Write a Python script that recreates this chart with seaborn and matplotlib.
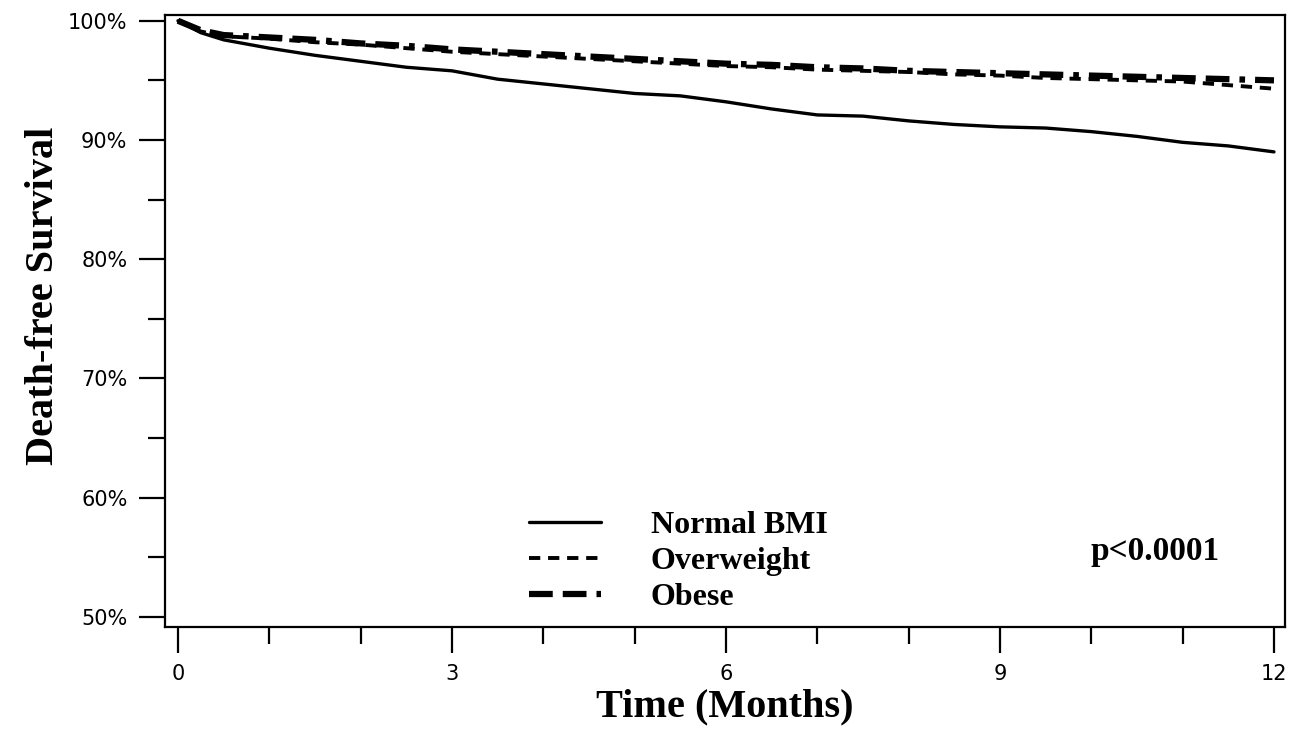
import numpy as np
import pandas as pd
import matplotlib
matplotlib.use("Agg")
import matplotlib.pyplot as plt
import seaborn as sns
from matplotlib.ticker import MultipleLocator, FuncFormatter

# Death-free survival (%), every half month
months = [0, 0.25, 0.5, 1, 1.5, 2, 2.5, 3, 3.5, 4, 4.5, 5, 5.5, 6,
          6.5, 7, 7.5, 8, 8.5, 9, 9.5, 10, 10.5, 11, 11.5, 12]
normal_bmi = [100, 99.0, 98.4, 97.7, 97.1, 96.6, 96.1, 95.8, 95.1, 94.7, 94.3, 93.9, 93.7, 93.2,
              92.6, 92.1, 92.0, 91.6, 91.3, 91.1, 91.0, 90.7, 90.3, 89.8, 89.5, 89.0]
overweight = [100, 99.1, 98.7, 98.5, 98.2, 98.0, 97.7, 97.4, 97.2, 97.0, 96.8, 96.6, 96.4, 96.2,
              96.1, 95.9, 95.8, 95.7, 95.5, 95.4, 95.2, 95.1, 95.0, 94.9, 94.6, 94.3]
obese = [100, 99.2, 98.8, 98.6, 98.4, 98.1, 97.9, 97.6, 97.4, 97.2, 97.0, 96.8, 96.6, 96.4,
         96.3, 96.1, 96.0, 95.8, 95.7, 95.6, 95.5, 95.4, 95.3, 95.2, 95.1, 95.0]
group_names = ["Normal BMI", "Overweight", "Obese"]

x_ticks = [0, 3, 6, 9, 12]
y_ticks = [50, 60, 70, 80, 90, 100]

df = pd.DataFrame({"month": months, "Normal BMI": normal_bmi,
                   "Overweight": overweight, "Obese": obese})

sns.set_style("ticks")
plt.rcParams["font.family"] = ["DejaVu Sans"]
for key in ["text.color", "axes.labelcolor", "xtick.color", "ytick.color", "axes.edgecolor"]:
    plt.rcParams[key] = "black"

fig = plt.figure(figsize=(12.94, 7.40), dpi=100)
ax = fig.add_axes([0.1275, 0.153, 0.8655, 0.827])

styles = {
    "Normal BMI": dict(linestyle="-", linewidth=2.4),
    "Overweight": dict(linestyle=(0, (2.9, 2.0)), linewidth=2.8),
    "Obese": dict(linestyle=(0, (3.8, 1.6, 3.8, 1.6, 0.9, 1.6)), linewidth=4.5),
}
for name in group_names:
    sns.lineplot(data=df, x="month", y=name, ax=ax, color="black",
                 label=name, **styles[name])

ax.set_xlim(-0.142, 12.12)
ax.set_ylim(49.16, 100.5)
ax.set_xticks(x_ticks)
ax.set_yticks(y_ticks)
ax.xaxis.set_minor_locator(MultipleLocator(1))
ax.yaxis.set_minor_locator(MultipleLocator(5))
ax.yaxis.set_major_formatter(FuncFormatter(lambda v, p: f"{v:.0f}%"))

for sp in ax.spines.values():
    sp.set_linewidth(1.6)
ax.tick_params(axis="both", which="major", length=19, width=1.6, labelsize=15, pad=8)
ax.tick_params(axis="both", which="minor", length=12, width=1.6)

ax.set_xlabel("Time (Months)", family="Liberation Serif", fontweight="bold",
              fontsize=29, labelpad=3)
ax.set_ylabel("Death-free Survival", family="Liberation Serif", fontweight="bold",
              fontsize=29)
ax.yaxis.set_label_coords(-0.092, 0.541)

leg = ax.legend(loc="upper left", bbox_to_anchor=(0.299, 0.236), frameon=False,
                handlelength=2.26, handletextpad=1.57, labelspacing=0.2,
                prop={"family": "Liberation Serif", "weight": "bold", "size": 23})

ax.text(10.7, 55.5, "p<0.0001", family="Liberation Serif", fontweight="bold",
        fontsize=24, ha="center", va="center")

fig.savefig("out.png", dpi=100)
